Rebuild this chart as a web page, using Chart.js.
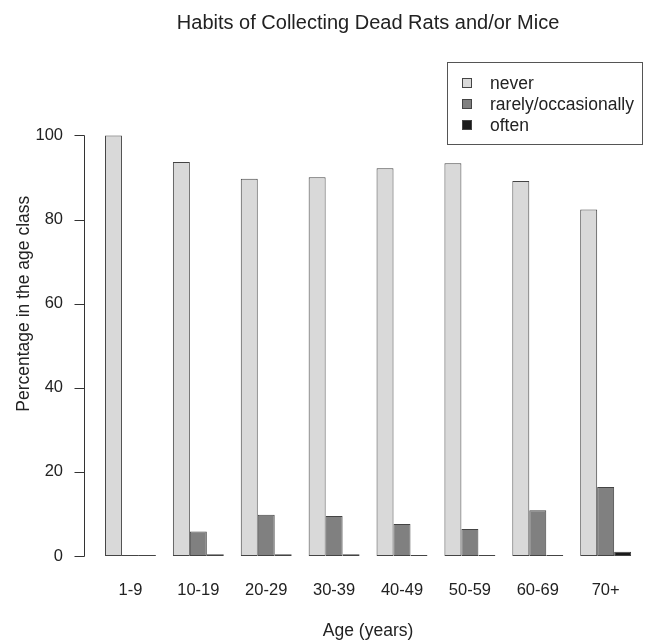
<!DOCTYPE html>
<html>
<head>
<meta charset="utf-8">
<script src="https://cdn.jsdelivr.net/npm/chart.js@4/dist/chart.umd.min.js"></script>
<style>
  html, body { margin: 0; padding: 0; background: #fff; }
  #wrap { position: relative; width: 645px; height: 643px; }
  #legend { position: absolute; left: 447px; top: 62px; width: 196px; height: 83px; box-sizing: border-box;
            border: 1px solid #555; font-family: "Liberation Sans", Arial, sans-serif; font-size: 17.5px; color: #222; }
  #legend .row { position: absolute; left: 0; height: 20px; line-height: 20px; }
  #legend .sw { position: absolute; left: 14px; top: 5px; width: 10px; height: 10px; box-sizing: border-box; border: 1px solid #444; }
  #legend .lb { position: absolute; left: 42px; top: 0; white-space: nowrap; }
</style>
</head>
<body>
<div id="wrap">
  <canvas id="c" width="645" height="643"></canvas>
  <div id="legend"></div>
</div>
<script>
const categories = ["1-9", "10-19", "20-29", "30-39", "40-49", "50-59", "60-69", "70+"];
const seriesNames = ["never", "rarely/occasionally", "often"];
const never = [100, 93.7, 89.7, 90.1, 92.2, 93.4, 89.2, 82.4];
const rarely = [0, 5.8, 9.8, 9.5, 7.6, 6.4, 10.9, 16.4];
const often = [0, 0.4, 0.4, 0.4, 0, 0, 0, 1.0];
const yTicks = [0, 20, 40, 60, 80, 100];
const colors = ["#d9d9d9", "#808080", "#1a1a1a"];

const FONT = '"Liberation Sans", Arial, sans-serif';

// legend (HTML)
const leg = document.getElementById('legend');
seriesNames.forEach((n, i) => {
  const row = document.createElement('div');
  row.className = 'row';
  row.style.top = (10 + i * 21) + 'px';
  row.innerHTML = '<span class="sw" style="background:' + colors[i] + '"></span><span class="lb">' + n + '</span>';
  leg.appendChild(row);
});

const axisLinePlugin = {
  id: 'rAxis',
  afterDraw(chart) {
    const y = chart.scales.y;
    const ctx = chart.ctx;
    const x = Math.round(chart.chartArea.left - 12.5) + 0.5;
    ctx.save();
    ctx.strokeStyle = '#333';
    ctx.lineWidth = 1;
    ctx.beginPath();
    ctx.moveTo(x, Math.round(y.getPixelForValue(yTicks[0])) + 0.5);
    ctx.lineTo(x, Math.round(y.getPixelForValue(yTicks[yTicks.length - 1])) + 0.5);
    yTicks.forEach(v => {
      const py = Math.round(y.getPixelForValue(v)) + 0.5;
      ctx.moveTo(x - 10, py);
      ctx.lineTo(x, py);
    });
    ctx.stroke();
    ctx.restore();
  }
};

const datasets = [never, rarely, often].map((d, i) => ({
  label: seriesNames[i],
  data: d,
  backgroundColor: colors[i],
  borderColor: '#444',
  borderWidth: 1,
  borderSkipped: false,
  minBarLength: 1,
  categoryPercentage: 0.75,
  barPercentage: 1.0
}));

new Chart(document.getElementById('c'), {
  type: 'bar',
  data: { labels: categories, datasets },
  options: {
    responsive: false,
    animation: false,
    devicePixelRatio: 1,
    layout: { padding: { left: 0, right: 3.4, top: 0, bottom: 0 } },
    plugins: {
      legend: { display: false },
      tooltip: { enabled: false },
      title: {
        display: true,
        text: 'Habits of Collecting Dead Rats and/or Mice',
        fullSize: false,
        color: '#222',
        font: { family: FONT, size: 20, weight: 'normal', lineHeight: 1.2 },
        padding: { top: 11, bottom: 16.4 }
      }
    },
    scales: {
      x: {
        grid: { display: false, drawTicks: false },
        border: { display: false },
        ticks: { color: '#222', font: { family: FONT, size: 16.5 }, padding: 25, maxRotation: 0, autoSkip: false },
        title: { display: true, text: 'Age (years)', color: '#222', font: { family: FONT, size: 17.5, lineHeight: 1.2 }, padding: { top: 0, bottom: 1 } },
        afterFit(s) { s.height = 87; }
      },
      y: {
        min: 0,
        max: 120,
        grid: { display: false, drawTicks: false },
        border: { display: false },
        ticks: { stepSize: 20, color: '#222', font: { family: FONT, size: 16.5 }, padding: 33.5 },
        afterBuildTicks(s) { s.ticks = yTicks.map(v => ({ value: v })); },
        title: { display: true, text: 'Percentage in the age class', color: '#222', font: { family: FONT, size: 17.5, lineHeight: 1.2 }, padding: { top: 13.5, bottom: 0 } },
        afterFit(s) { s.width = 96.5; }
      }
    }
  },
  plugins: [axisLinePlugin]
});
</script>
</body>
</html>
